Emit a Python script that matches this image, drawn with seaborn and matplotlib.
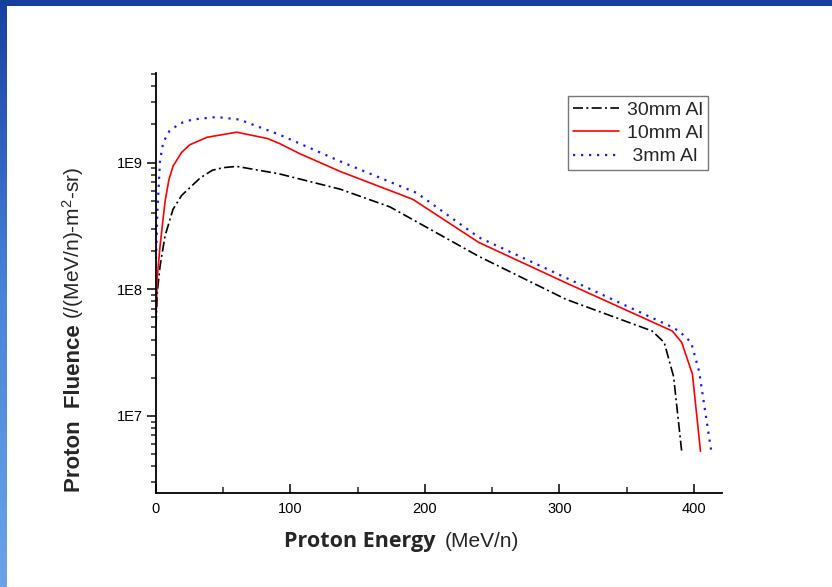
import numpy as np
import pandas as pd
import matplotlib
matplotlib.use("Agg")
import matplotlib.pyplot as plt
import matplotlib.ticker as mticker
from matplotlib.patches import Rectangle
from matplotlib.colors import LinearSegmentedColormap
import seaborn as sns

# ---------------- data ----------------
energy_30 = [0, 1, 3, 6.7, 12.6, 19, 25, 33, 42, 50, 60, 87, 92, 137, 174, 240, 305, 369, 378, 385, 391]
flux_30_log = [7.71, 7.98, 8.18, 8.42, 8.63, 8.74, 8.80, 8.88, 8.94, 8.96, 8.97, 8.92, 8.91, 8.79, 8.65,
               8.26, 7.92, 7.67, 7.58, 7.31, 6.72]

energy_10 = [0, 1, 3, 6.7, 9.5, 12.6, 19, 25, 38, 60, 83, 92, 107, 137, 191, 240, 305, 384, 391, 399, 405]
flux_10_log = [7.79, 8.10, 8.34, 8.69, 8.86, 8.97, 9.08, 9.14, 9.20, 9.24, 9.19, 9.15, 9.07, 8.93, 8.71,
               8.37, 8.05, 7.67, 7.58, 7.33, 6.72]

energy_3 = [0, 1, 2, 3, 5.4, 10, 18, 27, 45, 62, 87, 92, 137, 194, 240, 382, 389, 398, 404, 413]
flux_3_log = [8.24, 8.61, 8.81, 9.02, 9.16, 9.25, 9.31, 9.34, 9.36, 9.34, 9.24, 9.22, 9.01, 8.76, 8.41,
              7.71, 7.67, 7.58, 7.35, 6.72]

labels = ["30mm Al", "10mm Al", " 3mm Al"]
x_ticks = [0, 100, 200, 300, 400]
y_ticks = [1e7, 1e8, 1e9]
y_tick_labels = ["1E7", "1E8", "1E9"]

# ---------------- figure ----------------
sns.set_style("ticks")
plt.rcParams["font.family"] = ["Liberation Sans", "DejaVu Sans"]
plt.rcParams["mathtext.fontset"] = "custom"
plt.rcParams["mathtext.rm"] = "Liberation Sans"
plt.rcParams["mathtext.it"] = "Liberation Sans:italic"
plt.rcParams["mathtext.bf"] = "Liberation Sans:bold"

W, H = 832, 587
fig = plt.figure(figsize=(W / 100, H / 100), dpi=100)
fig.patch.set_facecolor("white")

# slide border (background axes in pixel coordinates)
bg = fig.add_axes([0, 0, 1, 1], zorder=-10)
grad = np.linspace(0, 1, 256).reshape(-1, 1)
cm = LinearSegmentedColormap.from_list("edge", ["#1540a0", "#4a82d8", "#6ca2ea"])
bg.imshow(grad, extent=[0, 7, H, 0], cmap=cm, aspect="auto", interpolation="bilinear")
bg.add_patch(Rectangle((0, 0), W, 6, color="#1540a0", lw=0))
bg.set_xlim(0, W)
bg.set_ylim(H, 0)
bg.axis("off")

ax = fig.add_axes([156 / W, 1 - 492.5 / H, (722 - 156) / W, (492.5 - 73) / H])
ax.set_facecolor("white")

df = pd.concat([
    pd.DataFrame({"E": energy_30, "F": 10 ** np.array(flux_30_log), "s": labels[0]}),
    pd.DataFrame({"E": energy_10, "F": 10 ** np.array(flux_10_log), "s": labels[1]}),
    pd.DataFrame({"E": energy_3, "F": 10 ** np.array(flux_3_log), "s": labels[2]}),
])

styles = {
    labels[0]: dict(color="black", ls=(0, (6, 2, 1.2, 2)), lw=1.2),
    labels[1]: dict(color="#ff0000", ls="-", lw=1.2),
    labels[2]: dict(color="#1a1aff", ls=(0, (1, 2.6)), lw=1.6),
}
for lab in labels:
    sub = df[df["s"] == lab]
    st = styles[lab]
    sns.lineplot(data=sub, x="E", y="F", ax=ax, color=st["color"], linestyle=st["ls"],
                 linewidth=st["lw"], label=lab, sort=False, estimator=None)

ax.set_yscale("log")
ax.set_xlim(0, 421)
ax.set_ylim(2.48e6, 5.1e9)
ax.set_xticks(x_ticks)
ax.xaxis.set_minor_locator(mticker.MultipleLocator(50))
ax.set_yticks(y_ticks)
ax.set_yticklabels(y_tick_labels)
ax.yaxis.set_minor_locator(mticker.LogLocator(base=10, subs=np.arange(2, 10)))
ax.yaxis.set_minor_formatter(mticker.NullFormatter())

for s in ["top", "right"]:
    ax.spines[s].set_visible(False)
for s in ["left", "bottom"]:
    ax.spines[s].set_linewidth(1.3)
    ax.spines[s].set_color("black")

ax.tick_params(axis="x", which="major", direction="in", length=6.5, width=1.1, labelsize=10.5, pad=7, colors="black")
ax.tick_params(axis="x", which="minor", direction="in", length=4, width=1.1)
ax.tick_params(axis="y", which="major", direction="out", length=6.5, width=1.1, labelsize=10.5, pad=3, colors="black")
ax.tick_params(axis="y", which="minor", direction="out", length=3.5, width=1.1)
ax.set_xlabel("")
ax.set_ylabel("")

leg = ax.legend(loc="upper right", bbox_to_anchor=(0.975, 0.945), frameon=True, fancybox=False,
                fontsize=14, handlelength=2.4, labelspacing=0.3, borderpad=0.25,
                handletextpad=0.4, borderaxespad=0)
leg.get_frame().set_edgecolor("#555555")
leg.get_frame().set_linewidth(1.0)

# axis labels with mixed weights
tx1 = fig.text(284 / W, 1 - 547 / H, "Proton Energy", fontsize=15.5, fontweight="bold",
               family=["Open Sans", "DejaVu Sans"], ha="left", va="baseline")
fig.canvas.draw()
bb = tx1.get_window_extent(fig.canvas.get_renderer())
fig.text((bb.x1 + 9) / W, 1 - 547 / H, "(MeV/n)", fontsize=15, ha="left", va="baseline")

ty1 = fig.text(80 / W, 1 - 492 / H, "Proton  Fluence", fontsize=16, fontweight="bold",
               family=["Liberation Sans", "DejaVu Sans"], rotation=90, rotation_mode="anchor",
               ha="left", va="baseline")
fig.canvas.draw()
bb2 = ty1.get_window_extent(fig.canvas.get_renderer())
fig.text(80 / W, (bb2.y1 + 5) / H, r"(/(MeV/n)-m$^{2}$-sr)", fontsize=15, rotation=90,
         rotation_mode="anchor", ha="left", va="baseline")

fig.savefig("out.png", dpi=100, facecolor="white")
